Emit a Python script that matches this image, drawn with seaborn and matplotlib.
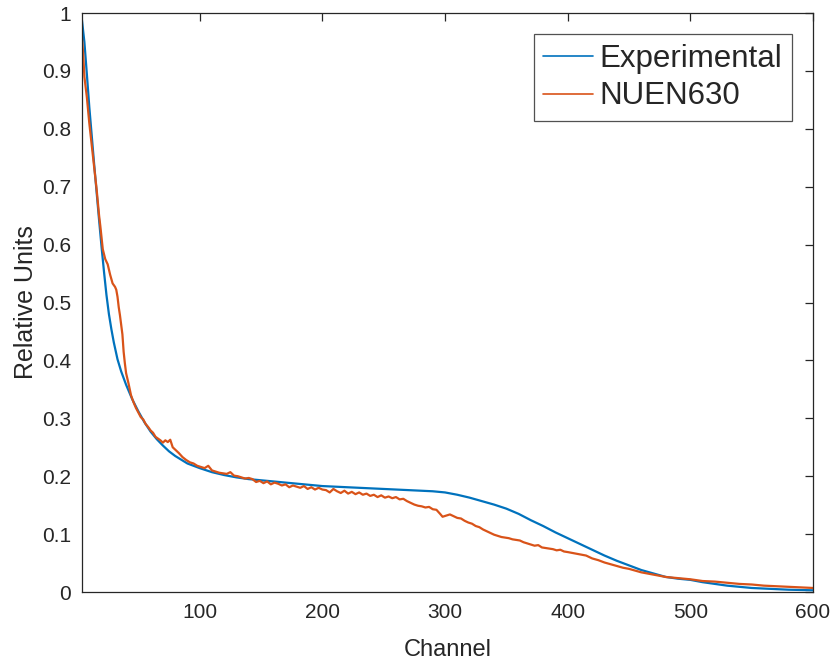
import numpy as np
import pandas as pd
import matplotlib
matplotlib.use("Agg")
import matplotlib.pyplot as plt
import seaborn as sns

# Measured (experimental) spectrum, relative units per channel
exp_channel = [4, 6, 8, 10, 12, 14, 16, 18, 20, 22, 24, 26, 28, 30, 33, 36, 40, 45,
               50, 55, 60, 65, 70, 75, 80, 90, 100, 110, 120, 130, 140, 150, 160,
               170, 180, 190, 200, 210, 220, 230, 240, 250, 260, 270, 280, 290, 300,
               310, 320, 330, 340, 350, 360, 370, 380, 390, 400, 410, 420, 430, 440,
               450, 460, 470, 480, 490, 500, 510, 520, 530, 540, 550, 560, 570, 580,
               590, 600]
exp_value = [0.988, 0.950, 0.895, 0.838, 0.788, 0.738, 0.690, 0.642, 0.596, 0.553,
             0.513, 0.480, 0.454, 0.431, 0.402, 0.381, 0.358, 0.333, 0.312, 0.293,
             0.277, 0.264, 0.253, 0.243, 0.235, 0.222, 0.214, 0.207, 0.202, 0.198,
             0.195, 0.193, 0.191, 0.189, 0.187, 0.185, 0.183, 0.182, 0.181, 0.180,
             0.179, 0.178, 0.177, 0.176, 0.175, 0.174, 0.172, 0.168, 0.163, 0.157,
             0.151, 0.144, 0.135, 0.124, 0.114, 0.103, 0.093, 0.083, 0.073, 0.063,
             0.054, 0.046, 0.038, 0.032, 0.026, 0.023, 0.021, 0.017, 0.014, 0.011,
             0.009, 0.007, 0.006, 0.005, 0.004, 0.0035, 0.003]

# Simulated (NUEN630) spectrum
sim_channel = [4, 5, 6, 8, 10, 12, 14, 16, 18, 19, 21, 23, 25, 27, 29, 31, 32, 33, 34,
               35, 36, 37, 38, 39, 40, 42, 44, 46, 48, 50, 52, 54, 56, 58, 60, 62, 64,
               66, 68, 70, 72, 74, 76, 78, 80, 83, 86, 89, 92, 95, 98, 101, 104, 107,
               110, 113, 116, 119, 122, 125, 128, 131, 134, 137, 140, 143, 146, 149,
               152, 155, 158, 161, 164, 167, 170, 173, 176, 179, 182, 185, 188, 191,
               194, 197, 200, 203, 206, 209, 212, 215, 218, 221, 224, 227, 230, 233,
               236, 239, 242, 245, 248, 251, 254, 257, 260, 263, 266, 269, 272, 275,
               278, 281, 284, 287, 290, 293, 296, 298, 301, 304, 307, 310, 313, 316,
               319, 322, 325, 328, 331, 334, 337, 340, 343, 346, 349, 352, 355, 358,
               361, 364, 367, 370, 373, 376, 379, 382, 385, 388, 391, 394, 397, 400,
               405, 410, 415, 420, 425, 430, 435, 440, 445, 450, 455, 460, 465, 470,
               475, 480, 485, 490, 495, 500, 510, 520, 530, 540, 550, 560, 570, 580,
               590, 600]
sim_value = [0.958, 0.930, 0.890, 0.855, 0.810, 0.772, 0.735, 0.695, 0.650, 0.632,
             0.592, 0.575, 0.566, 0.548, 0.533, 0.527, 0.522, 0.510, 0.492, 0.478,
             0.462, 0.445, 0.415, 0.395, 0.378, 0.360, 0.340, 0.328, 0.318, 0.310,
             0.302, 0.298, 0.290, 0.285, 0.279, 0.275, 0.268, 0.265, 0.262, 0.258,
             0.262, 0.259, 0.263, 0.250, 0.246, 0.240, 0.233, 0.228, 0.224, 0.222,
             0.218, 0.216, 0.214, 0.218, 0.210, 0.208, 0.206, 0.205, 0.204, 0.207,
             0.201, 0.200, 0.198, 0.196, 0.197, 0.195, 0.190, 0.192, 0.188, 0.191,
             0.186, 0.189, 0.187, 0.184, 0.186, 0.181, 0.184, 0.182, 0.180, 0.183,
             0.178, 0.181, 0.177, 0.180, 0.177, 0.176, 0.172, 0.178, 0.174, 0.171,
             0.175, 0.170, 0.173, 0.169, 0.172, 0.168, 0.170, 0.166, 0.168, 0.164,
             0.167, 0.163, 0.165, 0.162, 0.164, 0.160, 0.161, 0.157, 0.154, 0.151,
             0.149, 0.148, 0.146, 0.147, 0.143, 0.142, 0.135, 0.130, 0.132, 0.134,
             0.131, 0.128, 0.127, 0.123, 0.120, 0.118, 0.114, 0.112, 0.108, 0.105,
             0.102, 0.099, 0.097, 0.095, 0.094, 0.093, 0.091, 0.090, 0.089, 0.086,
             0.084, 0.082, 0.080, 0.081, 0.077, 0.076, 0.075, 0.074, 0.072, 0.073,
             0.070, 0.069, 0.067, 0.065, 0.063, 0.058, 0.055, 0.051, 0.048, 0.045,
             0.042, 0.040, 0.037, 0.034, 0.032, 0.030, 0.028, 0.026, 0.025, 0.024,
             0.023, 0.022, 0.019, 0.018, 0.016, 0.014, 0.013, 0.011, 0.010, 0.009,
             0.008, 0.007]

series_names = ["Experimental", "NUEN630"]
series_colors = ["#0072BD", "#D95319"]

x_ticks = [100, 200, 300, 400, 500, 600]
y_ticks = [0, 0.1, 0.2, 0.3, 0.4, 0.5, 0.6, 0.7, 0.8, 0.9, 1]
y_tick_labels = ["0", "0.1", "0.2", "0.3", "0.4", "0.5", "0.6", "0.7", "0.8", "0.9", "1"]

df = pd.concat([
    pd.DataFrame({"Channel": exp_channel, "Value": exp_value, "Series": series_names[0]}),
    pd.DataFrame({"Channel": sim_channel, "Value": sim_value, "Series": series_names[1]}),
], ignore_index=True)

sns.set_theme(style="white")
plt.rcParams["font.family"] = ["Liberation Sans", "DejaVu Sans"]

axis_color = "#262626"
fig = plt.figure(figsize=(8.36, 6.64), dpi=100)
ax = fig.add_axes([0.098, 0.1084, 0.8745, 0.872])

sns.lineplot(data=df, x="Channel", y="Value", hue="Series", hue_order=series_names,
             palette=series_colors, linewidth=1.6, ax=ax, sort=False, estimator=None)

ax.set_xlim(4, 600)
ax.set_ylim(0, 1)
ax.set_xticks(x_ticks)
ax.set_xticklabels([str(t) for t in x_ticks])
ax.set_yticks(y_ticks)
ax.set_yticklabels(y_tick_labels)

for side in ["left", "right", "top", "bottom"]:
    ax.spines[side].set_visible(True)
    ax.spines[side].set_color(axis_color)
    ax.spines[side].set_linewidth(0.9)

ax.tick_params(axis="both", which="both", direction="in", length=6, width=0.9,
               colors=axis_color, labelsize=15, top=True, right=True,
               labelcolor=axis_color, pad=8)

ax.set_xlabel("Channel", fontsize=17, color=axis_color, labelpad=12)
ax.set_ylabel("Relative Units", fontsize=18, color=axis_color, labelpad=3)

leg = ax.legend(loc="upper right", fontsize=22.5, frameon=True, fancybox=False,
                borderpad=0.3, handlelength=1.6, handletextpad=0.2,
                labelspacing=0.25, borderaxespad=0.68)
leg.get_frame().set_edgecolor(axis_color)
leg.get_frame().set_linewidth(0.9)
for line in leg.get_lines():
    line.set_linewidth(1.2)

fig.savefig("out.png", dpi=100, facecolor="white")
